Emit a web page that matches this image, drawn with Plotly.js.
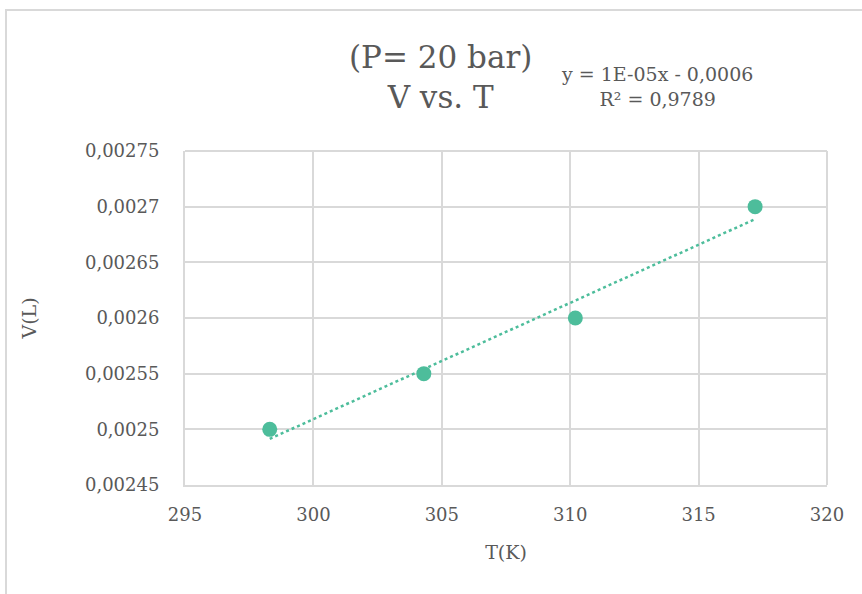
<!DOCTYPE html>
<html>
<head>
<meta charset="utf-8">
<script src="https://cdn.plot.ly/plotly-3.0.1.min.js"></script>
<style>html,body{margin:0;padding:0;background:#fff;}#chart{width:862px;height:594px;}</style>
</head>
<body>
<div id="chart"></div>
<script>
const temperatureK = [298.3, 304.3, 310.2, 317.2];
const volumeL = [0.0025, 0.00255, 0.0026, 0.0027];
const xTicks = [295, 300, 305, 310, 315, 320];
const yTicks = [0.00245, 0.0025, 0.00255, 0.0026, 0.00265, 0.0027, 0.00275];
const yTickLabels = ["0,00245", "0,0025", "0,00255", "0,0026", "0,00265", "0,0027", "0,00275"];
const titleLines = ["(P= 20 bar)", "V vs. T"];
const eqLines = ["y = 1E-05x - 0,0006", "R² = 0,9789"];

// least-squares linear trendline from the data
const n = temperatureK.length;
const mx = temperatureK.reduce((a, b) => a + b, 0) / n;
const my = volumeL.reduce((a, b) => a + b, 0) / n;
let sxy = 0, sxx = 0;
for (let i = 0; i < n; i++) { sxy += (temperatureK[i] - mx) * (volumeL[i] - my); sxx += (temperatureK[i] - mx) ** 2; }
const slope = sxy / sxx, intercept = my - slope * mx;
const trendX = [Math.min(...temperatureK), Math.max(...temperatureK)];
const trendY = trendX.map(x => slope * x + intercept);

const color = '#4dbd9b';
const txt = '#595959';
const font = 'DejaVu Serif, Liberation Serif, serif';
const grid = '#d9d9d9';

const data = [
  { x: trendX, y: trendY, mode: 'lines', line: { color: color, width: 2.5, dash: 'dot' }, hoverinfo: 'skip', showlegend: false },
  { x: temperatureK, y: volumeL, mode: 'markers', marker: { color: color, size: 15 }, showlegend: false }
];

const layout = {
  width: 862, height: 594,
  margin: { l: 185, r: 35, t: 151, b: 109 },
  paper_bgcolor: '#fff', plot_bgcolor: '#fff',
  font: { family: font, color: txt, size: 18 },
  xaxis: {
    range: [295, 320], tickvals: xTicks, ticktext: xTicks.map(String),
    showgrid: true, gridcolor: grid, gridwidth: 2, zeroline: false,
    showline: true, linecolor: grid, linewidth: 2, ticks: '',
    tickfont: { size: 18, color: txt, family: font }, ticklabelstandoff: 12,
    title: { text: 'T(K)', font: { size: 19, color: txt, family: font }, standoff: 22 }
  },
  yaxis: {
    range: [0.00245, 0.00275], tickvals: yTicks, ticktext: yTickLabels,
    showgrid: true, gridcolor: grid, gridwidth: 2, zeroline: false,
    showline: true, linecolor: grid, linewidth: 2, ticks: '',
    tickfont: { size: 18, color: txt, family: font }, ticklabelstandoff: 20,
    title: { text: 'V(L)', font: { size: 19, color: txt, family: font }, standoff: 43 }
  },
  annotations: [
    { text: titleLines.join('<br>'), xref: 'paper', yref: 'paper', x: (440 - 185) / 642, y: (485 - 77) / 334,
      showarrow: false, font: { size: 31, color: txt, family: font }, align: 'center', xanchor: 'center', yanchor: 'middle' },
    { text: eqLines.join('<br>'), xref: 'paper', yref: 'paper', x: (657 - 185) / 642, y: (485 - 86) / 334,
      showarrow: false, font: { size: 19, color: txt, family: font }, align: 'center', xanchor: 'center', yanchor: 'middle' }
  ],
  shapes: [
    { type: 'line', xref: 'paper', yref: 'paper', x0: (5 - 185) / 642, x1: (862 - 185) / 642, y0: (485 - 10) / 334, y1: (485 - 10) / 334, line: { color: grid, width: 2 } },
    { type: 'line', xref: 'paper', yref: 'paper', x0: (6 - 185) / 642, x1: (6 - 185) / 642, y0: (485 - 10) / 334, y1: (485 - 600) / 334, line: { color: grid, width: 2 } },
    { type: 'line', xref: 'paper', yref: 'paper', x0: 0, x1: 1, y0: 1, y1: 1, line: { color: grid, width: 2 } },
    { type: 'line', xref: 'paper', yref: 'paper', x0: 1, x1: 1, y0: 0, y1: 1, line: { color: grid, width: 2 } }
  ]
};

Plotly.newPlot('chart', data, layout, { displayModeBar: false, staticPlot: true });
</script>
</body>
</html>
